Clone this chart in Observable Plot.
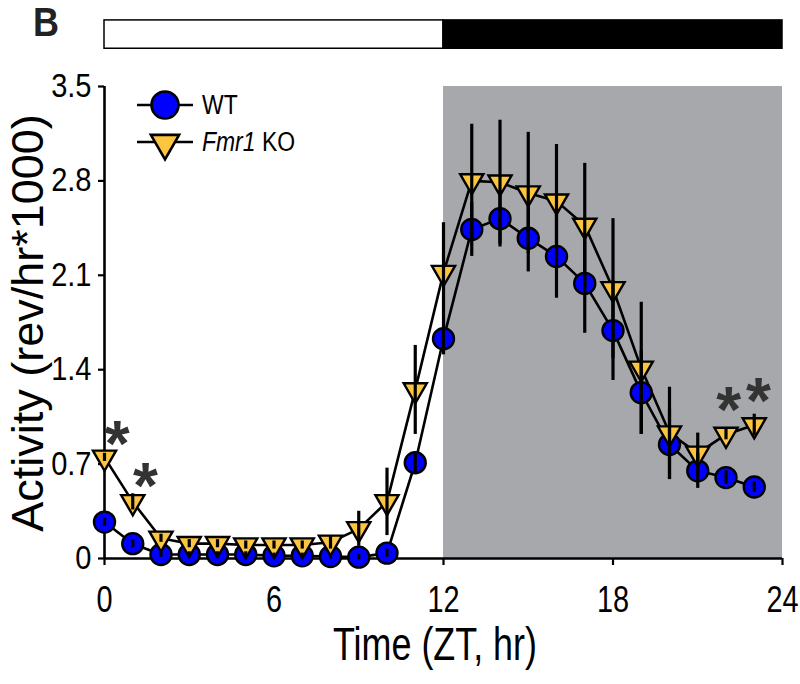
<!DOCTYPE html>
<html>
<head>
<meta charset="utf-8">
<script src="https://cdn.jsdelivr.net/npm/d3@7"></script>
<script src="https://cdn.jsdelivr.net/npm/@observablehq/plot@0.6"></script>
<style>
  html, body { margin: 0; padding: 0; background: #fff; }
  #chart { position: relative; width: 800px; height: 684px; }
</style>
</head>
<body>
<div id="chart"></div>
<script>
// ---- data ----
const hours = [0,1,2,3,4,5,6,7,8,9,10,11,12,13,14,15,16,17,18,19,20,21,22,23];
const wt    = [0.27,0.11,0.03,0.03,0.03,0.03,0.02,0.02,0.015,0.01,0.04,0.71,1.63,2.44,2.52,2.375,2.24,2.04,1.69,1.23,0.845,0.65,0.60,0.53];
const wtErr = [0.03,0.03,0.02,0.02,0.02,0.02,0.02,0.02,0.02,0.02,0.03,0.08,0.12,0.20,0.21,0.25,0.31,0.37,0.37,0.31,0.26,0.13,0.05,0.04];
const ko    = [0.75,0.42,0.15,0.11,0.11,0.10,0.10,0.10,0.12,0.22,0.42,1.25,2.12,2.80,2.79,2.71,2.65,2.47,2.00,1.41,0.93,0.78,0.92,0.99];
const koErr = [0.03,0.06,0.03,0.03,0.03,0.03,0.03,0.03,0.05,0.13,0.25,0.33,0.37,0.42,0.46,0.45,0.42,0.46,0.52,0.49,0.34,0.15,0.04,0.08];
const seriesNames = ["WT", "Fmr1 KO"];
const phases = [{start: 0, end: 12, phase: "light"}, {start: 12, end: 24, phase: "dark"}];
const darkPhase = [{start: 12, end: 24}];
const xTicks = [0, 6, 12, 18, 24];
const yTicks = [0, 0.7, 1.4, 2.1, 2.8, 3.5];
const sigX = [0.45, 1.45, 22.1, 23.15];
const sigY = [0.95, 0.64, 1.20, 1.27];
const xTitle = "Time (ZT, hr)";
const yTitle = "Activity (rev/hr*1000)";
const panelLetter = "B";

// ---- tables ----
const wtData = hours.map((h, i) => ({h, v: wt[i], e: wtErr[i]}));
const koData = hours.map((h, i) => ({h, v: ko[i], e: koErr[i]}));
const stars = sigX.map((x, i) => ({x, y: sigY[i]}));

const BLUE = "#0000fe", GOLD = "#fcc540", GRAY = "#a7a8ac";
const FONT = "'Liberation Sans', Arial, Helvetica, sans-serif";

const triangleDown = {
  draw(context, size) {
    const y = Math.sqrt(size / (3 * Math.sqrt(3)));
    context.moveTo(0, 2 * y);
    context.lineTo(-Math.sqrt(3) * y, -y);
    context.lineTo(Math.sqrt(3) * y, -y);
    context.closePath();
  }
};

const plot = Plot.plot({
  width: 800,
  height: 684,
  marginLeft: 104,
  marginRight: 18,
  marginTop: 86,
  marginBottom: 126,
  x: {domain: [0, 24]},
  y: {domain: [0, 3.5]},
  style: {fontFamily: FONT, background: "white", overflow: "visible"},
  marks: [
    // dark-phase shading
    Plot.rect(darkPhase, {x1: "start", x2: "end", y1: 0, y2: 3.5, fill: GRAY}),
    // light/dark bar on top
    Plot.rect(phases, {x1: "start", x2: "end", y1: 3.78, y2: 3.99,
      fill: d => d.phase === "light" ? "white" : "black", stroke: "black", strokeWidth: 1.5}),
    // axes
    Plot.axisX({ticks: xTicks, tickSize: 7, tickPadding: 20, fontSize: 37, label: null, strokeWidth: 2.2, fill: "black"}),
    Plot.axisY({ticks: yTicks, tickSize: 6, tickPadding: 7, fontSize: 33, label: null, strokeWidth: 2.2, fill: "black",
      tickFormat: d => d === 0 ? "0" : d.toFixed(1)}),
    Plot.ruleX([0], {y1: 0, y2: 3.5, stroke: "black", strokeWidth: 2.6}),
    Plot.ruleY([0], {x1: 0, x2: 24, stroke: "black", strokeWidth: 2.6}),
    // connecting lines
    Plot.line(wtData, {x: "h", y: "v", stroke: "black", strokeWidth: 2.6}),
    Plot.line(koData, {x: "h", y: "v", stroke: "black", strokeWidth: 2.6}),
    // markers
    Plot.dot(wtData, {x: "h", y: "v", r: 10.5, symbol: "circle", fill: BLUE, stroke: "black", strokeWidth: 2.4}),
    Plot.dot(koData, {x: "h", y: "v", r: 8.6, symbol: triangleDown, fill: GOLD, stroke: "black", strokeWidth: 2.4}),
    // error bars
    Plot.ruleX(wtData, {x: "h", y1: d => d.v - d.e, y2: d => d.v + d.e, stroke: "black", strokeWidth: 3.2}),
    Plot.ruleX(koData, {x: "h", y1: d => d.v - d.e, y2: d => d.v + d.e, stroke: "black", strokeWidth: 3.2}),
    // significance stars
    Plot.text(stars, {x: "x", y: "y", text: () => "*", fontSize: 64, fontWeight: "bold", fill: "#333", dy: 15})
  ]
});

document.getElementById("chart").appendChild(plot);

const svg = d3.select(plot);
// condense tick labels like the reference's narrow type
svg.selectAll('g[aria-label="x-axis tick label"] text').each(function() {
  const t = d3.select(this); t.attr("transform", (t.attr("transform") || "") + " scale(0.78,1)");
});
svg.selectAll('g[aria-label="y-axis tick label"] text').each(function() {
  const t = d3.select(this); t.attr("transform", (t.attr("transform") || "") + " scale(0.88,1)");
});

// axis titles
svg.append("text").attr("transform", "translate(435,660) scale(0.78,1)")
  .attr("text-anchor", "middle").attr("font-family", FONT).attr("font-size", 46)
  .attr("fill", "black").text(xTitle);
svg.append("text").attr("transform", "translate(43,323) rotate(-90)")
  .attr("text-anchor", "middle").attr("font-family", FONT).attr("font-size", 45)
  .attr("fill", "black").text(yTitle);

// panel letter
svg.append("text").attr("transform", "translate(33,36) scale(0.9,1)")
  .attr("text-anchor", "start").attr("font-family", FONT).attr("font-weight", "bold").attr("font-size", 40)
  .attr("fill", "#222").text(panelLetter);

// legend
const lg = svg.append("g");
const rows = [{y: 105, name: seriesNames[0]}, {y: 142, name: seriesNames[1]}];
rows.forEach((r, i) => {
  lg.append("line").attr("x1", 137).attr("x2", 193).attr("y1", r.y).attr("y2", r.y)
    .attr("stroke", "black").attr("stroke-width", 2.4);
  if (i === 0) {
    lg.append("circle").attr("cx", 165).attr("cy", r.y).attr("r", 13.5)
      .attr("fill", BLUE).attr("stroke", "black").attr("stroke-width", 2.6);
  } else {
    lg.append("path").attr("transform", `translate(165,${r.y + 1})`)
      .attr("d", d3.symbol(triangleDown, Math.PI * 10.5 * 10.5)())
      .attr("fill", GOLD).attr("stroke", "black").attr("stroke-width", 2.6);
  }
  const t = lg.append("text").attr("transform", `translate(202,${r.y + 9}) scale(0.85,1)`)
    .attr("text-anchor", "start").attr("font-family", FONT).attr("font-size", 27).attr("fill", "black");
  if (i === 0) t.text(r.name);
  else {
    t.append("tspan").attr("font-style", "italic").text("Fmr1");
    t.append("tspan").text(" KO");
  }
});
</script>
</body>
</html>
